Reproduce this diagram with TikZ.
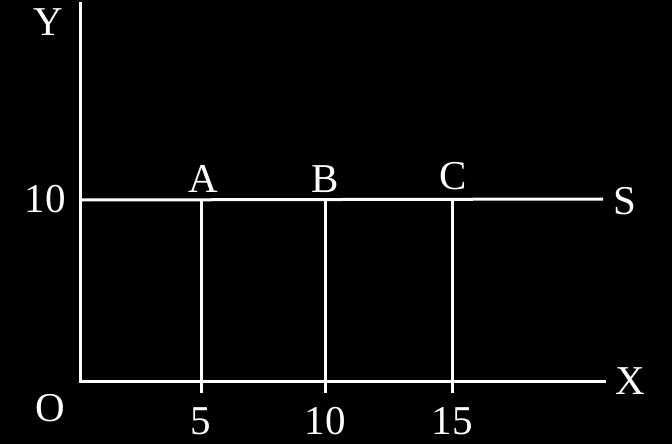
\documentclass[tikz,border=0pt]{standalone}
\usepackage{fontspec}
\setmainfont{Liberation Serif}
\begin{document}
\begin{tikzpicture}[x=1pt,y=-1pt,
  axisline/.style={draw=white,line width=3pt},
  lbl/.style={text=white,font=\fontsize{41}{44}\selectfont,inner sep=0pt}]
\fill[black] (0,0) rectangle (672,444);
\useasboundingbox (0,0) rectangle (672,444);
\coordinate (O) at (80,381);
\coordinate (Ytop) at (80,4);
\coordinate (Xend) at (604,381);
\coordinate (Sl) at (80,200);
\coordinate (Sr) at (603,199);
\coordinate (At) at (201,200); \coordinate (Ab) at (201,393);
\coordinate (Bt) at (325,200); \coordinate (Bb) at (325,393);
\coordinate (Ct) at (452,200); \coordinate (Cb) at (452,393);
\draw[axisline,line cap=rect] (Ytop) -- (O) -- (Xend);
\draw[axisline] (Sl) -- (Sr);
\draw[axisline] (At) -- (Ab);
\draw[axisline] (Bt) -- (Bb);
\draw[axisline] (Ct) -- (Cb);
\node[lbl] (ly) at (48,22) {Y};
\node[lbl] (l10y) at (45,199) {10};
\node[lbl] (la) at (203,179) {A};
\node[lbl] (lb) at (325,179) {B};
\node[lbl] (lc) at (453,176) {C};
\node[lbl] (ls) at (625,201) {S};
\node[lbl] (lx) at (630,381) {X};
\node[lbl] (lo) at (50,408) {O};
\node[lbl] (l5) at (201,421) {5};
\node[lbl] (l10) at (325,421) {10};
\node[lbl] (l15) at (452,421) {15};
\end{tikzpicture}
\end{document}
